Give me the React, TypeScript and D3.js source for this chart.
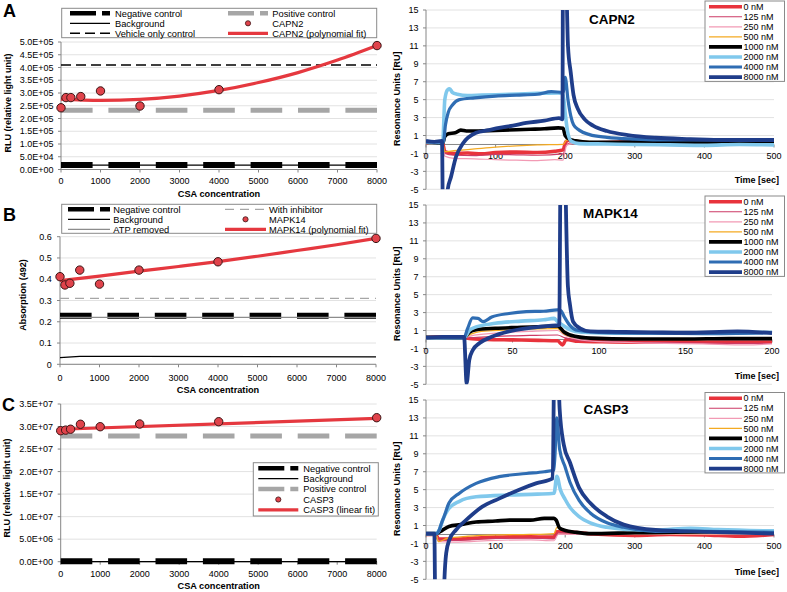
import React from 'react';
import * as d3 from 'd3';

const FONT = '"Liberation Sans", Arial, Helvetica, sans-serif';

// ---------------- Left panels (plate assays) ----------------
const CSA_CONC = [0, 125, 250, 500, 1000, 2000, 4000, 8000];
const CSA_TICKS = [0, 1000, 2000, 3000, 4000, 5000, 6000, 7000, 8000];
const FIT_X = [0, 1000, 2000, 3000, 4000, 5000, 6000, 7000, 8000];

const CAPN2_RLU = [2.42e5, 2.82e5, 2.82e5, 2.86e5, 3.08e5, 2.49e5, 3.13e5, 4.86e5];
const CAPN2_FIT = [2.76e5, 2.71e5, 2.75e5, 2.88e5, 3.1e5, 3.41e5, 3.8e5, 4.29e5, 4.86e5];
const CAPN2_NEG = 1.8e4;
const CAPN2_BKG = 1.7e4;
const CAPN2_POS = 2.32e5;
const CAPN2_VEH = 4.1e5;
const A_YTICKS = [0, 5e4, 1e5, 1.5e5, 2e5, 2.5e5, 3e5, 3.5e5, 4e5, 4.5e5, 5e5];

const MAPK14_ABS = [0.412, 0.373, 0.381, 0.443, 0.377, 0.443, 0.482, 0.592];
const MAPK14_FIT = [0.393, 0.415, 0.438, 0.46, 0.483, 0.508, 0.535, 0.562, 0.592];
const MAPK14_NEG = 0.228;
const MAPK14_ATP = 0.221;
const MAPK14_INH = 0.31;
const MAPK14_BKG_X = [0, 500, 2000, 8000];
const MAPK14_BKG_Y = [0.031, 0.037, 0.037, 0.035];
const B_YTICKS = [0, 0.1, 0.2, 0.3, 0.4, 0.5, 0.6];

const CASP3_RLU = [2.907e7, 2.92e7, 2.94e7, 3.05e7, 2.996e7, 3.056e7, 3.107e7, 3.196e7];
const CASP3_FIT_X = [0, 8000];
const CASP3_FIT = [2.94e7, 3.18e7];
const CASP3_NEG = 1e5;
const CASP3_BKG = 0;
const CASP3_POS = 2.79e7;
const C_YTICKS = [0, 5e6, 1e7, 1.5e7, 2e7, 2.5e7, 3e7, 3.5e7];

// ---------------- Right panels (SPR sensorgrams) ----------------
const CONC_LABELS = ['0 nM', '125 nM', '250 nM', '500 nM', '1000 nM', '2000 nM', '4000 nM', '8000 nM'];
const RU_TICKS = [-5, -3, -1, 1, 3, 5, 7, 9, 11, 13, 15];
const TIME_TICKS_500 = [0, 100, 200, 300, 400, 500];
const TIME_TICKS_200 = [0, 50, 100, 150, 200];

const CAPN2_0 = [[0,0.2],[12,0.3],[24,0.1],[27,-0.8],[40,-1.0],[60,-0.95],[80,-1.05],[100,-0.9],[130,-0.85],[160,-0.9],[185,-0.75],[197,-0.6],[201,0.3],[206,0.5],[212,0.2],[240,0.2],[300,0.3],[350,0.25],[400,0.3],[450,0.3],[500,0.3]];
const CAPN2_125 = [[0,0.2],[24,0.1],[27,-1.0],[40,-1.2],[70,-1.25],[100,-1.1],[130,-1.15],[160,-1.2],[197,-1.05],[202,0.0],[210,0.2],[300,0.3],[400,0.3],[500,0.3]];
const CAPN2_250 = [[0,0.2],[24,0.1],[27,-1.3],[40,-1.55],[70,-1.6],[100,-1.7],[130,-1.75],[160,-1.8],[185,-1.7],[197,-1.75],[202,-0.1],[210,0.1],[300,0.2],[400,0.2],[500,0.2]];
const CAPN2_500 = [[0,0.2],[24,0.1],[27,-0.8],[40,-0.7],[70,-0.5],[100,-0.3],[130,-0.15],[160,-0.05],[197,0.0],[202,0.5],[212,0.55],[225,0.35],[260,0.3],[300,0.3],[400,0.35],[500,0.4]];
const CAPN2_1000 = [[0,0.3],[15,0.2],[24,0.1],[27,0.9],[32,1.2],[42,1.3],[50,1.6],[58,1.5],[70,1.5],[90,1.55],[110,1.6],[130,1.65],[150,1.7],[170,1.75],[190,1.85],[197,1.8],[200,1.0],[206,0.6],[215,0.4],[235,0.25],[270,0.25],[300,0.3],[350,0.2],[400,0.25],[450,0.2],[500,0.3]];
const CAPN2_2000 = [[0,0.3],[24,0.2],[27,5.0],[31,6.1],[34,6.2],[38,5.8],[45,5.6],[60,5.45],[80,5.5],[120,5.6],[160,5.7],[190,5.75],[197,5.6],[200,3.5],[204,1.2],[209,0.35],[220,0.1],[260,0.05],[300,0.0],[350,-0.05],[400,-0.1],[450,0.0],[500,-0.05]];
const CAPN2_4000 = [[0,0.3],[25,0.3],[28,2.2],[32,3.6],[38,4.4],[48,5.0],[70,5.2],[100,5.4],[130,5.5],[160,5.6],[180,5.9],[197,5.8],[200,7.5],[204,5.0],[208,3.2],[212,2.2],[220,1.6],[235,1.1],[260,0.8],[300,0.6],[350,0.5],[400,0.5],[450,0.5],[500,0.5]];
const CAPN2_8000 = [[0,0.4],[12,0.3],[23,0.4],[24.5,-9],[29.5,-9],[31,-5.1],[36,-3.6],[43,-1.4],[53,0.1],[72,1.3],[90,1.6],[105,1.85],[125,2.1],[144,2.4],[170,2.65],[191,2.95],[196,2.8],[197,24],[199.5,24],[204,11],[208,8],[212,5.5],[218,4.0],[228,2.8],[240,2.1],[260,1.5],[290,1.05],[330,0.75],[380,0.6],[430,0.5],[500,0.5]];

const MAPK14_0 = [[0,0.2],[10,0.3],[22,0.3],[25,0.1],[35,0.0],[50,-0.05],[65,-0.1],[76,-0.15],[79,-0.6],[81,0.0],[88,-0.2],[100,-0.25],[120,-0.3],[150,-0.25],[170,-0.3],[200,-0.3]];
const MAPK14_125 = [[0,0.2],[22,0.2],[26,0.2],[40,0.35],[60,0.45],[76,0.5],[80,0.2],[88,-0.1],[100,-0.2],[130,-0.35],[160,-0.4],[200,-0.45]];
const MAPK14_250 = [[0,0.2],[22,0.2],[26,0.4],[40,0.7],[60,0.9],[76,1.0],[80,0.5],[88,0.0],[100,-0.25],[130,-0.4],[160,-0.5],[185,-0.6],[200,-0.5]];
const MAPK14_500 = [[0,0.2],[22,0.2],[26,0.6],[32,0.9],[45,1.05],[60,1.15],[76,1.2],[80,0.6],[88,0.2],[100,0.05],[150,0.0],[200,0.05]];
const MAPK14_1000 = [[0,0.25],[22,0.2],[25,0.8],[29,1.1],[40,1.25],[55,1.35],[68,1.45],[76,1.5],[80,0.8],[86,0.35],[95,0.15],[120,0.05],[150,0.05],[175,0.1],[200,0.1]];
const MAPK14_2000 = [[0,0.2],[22,0.2],[25,1.0],[29,1.4],[40,1.8],[55,2.05],[68,2.2],[74,2.35],[76,2.0],[79,1.6],[83,1.1],[90,0.8],[110,0.7],[150,0.7],[200,0.8]];
const MAPK14_4000 = [[0,0.2],[22,0.2],[24,1.2],[27,2.4],[30,2.35],[33,2.0],[38,2.5],[48,2.9],[58,3.1],[68,3.15],[76,3.3],[78,3.2],[80,2.5],[83,1.6],[88,1.0],[100,0.8],[130,0.7],[160,0.65],[200,0.75]];
const MAPK14_8000 = [[0,0.2],[10,0.3],[22,0.3],[23.5,-4.9],[25,-2.3],[27,-1.2],[31,-0.4],[38,0.3],[48,0.9],[58,1.25],[70,1.5],[77,1.6],[78,24],[79.5,24],[82,6],[83.2,3.9],[85,2.0],[89,1.25],[95,0.9],[110,0.85],[130,0.8],[150,0.75],[180,0.9],[200,0.7]];

const CASP3_0 = [[0,0.0],[14,0.0],[18,-0.5],[40,-0.5],[70,-0.4],[100,-0.3],[150,-0.25],[184,-0.3],[188,0.3],[200,0.3],[240,0.05],[300,-0.1],[350,0.0],[400,-0.05],[450,-0.2],[500,0.0]];
const CASP3_125 = [[0,0.0],[14,0.0],[18,-0.6],[40,-0.65],[100,-0.45],[150,-0.4],[184,-0.5],[190,0.2],[220,0.15],[300,0.0],[400,0.0],[500,0.0]];
const CASP3_250 = [[0,0.0],[14,0.0],[18,-0.8],[40,-0.85],[100,-0.65],[150,-0.6],[184,-0.7],[190,0.0],[250,0.0],[500,0.0]];
const CASP3_500 = [[0,0.0],[14,0.0],[18,-0.8],[30,-0.45],[60,-0.2],[100,-0.05],[150,0.0],[184,0.1],[188,0.8],[195,0.5],[210,0.2],[300,0.1],[500,0.1]];
const CASP3_1000 = [[0,0.1],[15,0.1],[20,0.3],[33,0.9],[50,1.1],[72,1.4],[100,1.5],[120,1.6],[150,1.6],[170,1.8],[184,1.8],[187,1.6],[192,0.7],[200,0.45],[215,0.25],[235,0.1],[300,0.2],[400,0.3],[420,0.45],[450,0.3],[500,0.2]];
const CASP3_2000 = [[0,0.1],[15,0.1],[19,0.5],[25,1.8],[31,2.7],[48,3.7],[72,4.2],[120,4.4],[160,4.5],[184,4.6],[188,6.5],[193,5.0],[200,3.9],[207,3.0],[220,2.0],[236,1.3],[260,0.8],[284,0.6],[330,0.5],[380,0.7],[420,0.55],[500,0.4]];
const CASP3_4000 = [[0,0.1],[15,0.1],[19,0.5],[22,1.2],[26,2.0],[33,3.5],[48,4.6],[72,5.7],[105,6.45],[144,6.8],[170,7.0],[184,7.2],[188,13],[192,9.5],[200,7.5],[207,5.8],[220,3.8],[236,2.4],[260,1.3],[284,0.8],[330,0.35],[400,0.35],[450,0.3],[500,0.25]];
const CASP3_8000 = [[0,0.1],[12,0.1],[13.5,-9],[25,-9],[26.5,-5],[29,-2.1],[33.5,-0.6],[43,0.5],[57.5,1.6],[81,3.1],[105,4.0],[134,5.0],[158,5.7],[182,6.26],[185,24],[187.5,24],[192,14],[198,10],[207,8.0],[220,5.2],[236,3.5],[260,2.0],[284,1.1],[330,0.5],[400,0.3],[450,0.2],[500,0.1]];

// ---------------- Styles ----------------
const SERIES_COLORS = ['#e8333c', '#cc3a66', '#f29ab4', '#f4aa22', '#000000', '#80c8ec', '#2f6db3', '#1f3d8a'];
const SERIES_WIDTHS = [3.6, 1.2, 1.2, 1.3, 3.6, 3.6, 3.2, 3.8];

type Sty = { stroke: string; width: number; dash?: string; kind?: 'line' | 'dot' };
const NEG: Sty = { stroke: '#000', width: 6, dash: 'long' };
const POS: Sty = { stroke: '#a6a6a6', width: 5, dash: 'long' };
const BKG: Sty = { stroke: '#000', width: 1.2 };
const VEH: Sty = { stroke: '#000', width: 1.4, dash: '10,5' };
const INH: Sty = { stroke: '#a6a6a6', width: 1.3, dash: '9,6' };
const ATP: Sty = { stroke: '#8c8c8c', width: 1.2 };
const FIT: Sty = { stroke: '#e5383f', width: 3.2 };
const DOT: Sty = { stroke: '#3a1515', width: 1, kind: 'dot' };
const DOT_FILL = '#e0434b';

const fmtE = (v: number) => {
  const [m, e] = v.toExponential(1).split('e');
  return `${m}E${e[0]}${e.slice(1).padStart(2, '0')}`;
};

type LegendItem = { sty: Sty; label: string; sx0: number; sx1: number; tx: number; y: number };

type LeftCfg = {
  x0: number; x1: number; yTop: number; yBot: number; yMax: number; yTicks: number[];
  fmt: (v: number) => string; tickRight: number;
  yLabel: string; yLabelX: number; yLabelY: number;
  letter: string; letterX: number; letterY: number;
  xTickY: number; xTitleY: number;
  hlines: { xs: number[]; ys: number[]; sty: Sty }[];
  points: number[]; fitX: number[]; fitY: number[]; fitCurve: boolean;
  legendBox: [number, number, number, number];
  legend: LegendItem[];
};

function LeftPanel({ c }: { c: LeftCfg }) {
  const x = d3.scaleLinear().domain([0, 8000]).range([c.x0, c.x1]);
  const y = d3.scaleLinear().domain([0, c.yMax]).range([c.yBot, c.yTop]);
  const longDash = `${x(800) - x(0)},${x(400) - x(0)}`;
  const dashOf = (s: Sty) => (s.dash === 'long' ? longDash : s.dash);
  const path = (xs: number[], ys: number[], curve: boolean) => {
    const g = d3.line<number>().x((d) => x(xs[d])).y((d) => y(ys[d]));
    if (curve) g.curve(d3.curveMonotoneX);
    return g(xs.map((_, i) => i)) || '';
  };
  const legendDash = (s: Sty) => (s.dash === 'long' ? '26,6' : s.dash);
  return (
    <g>
      {c.yTicks.map((t) => (
        <line key={'g' + t} x1={c.x0} x2={c.x1} y1={y(t)} y2={y(t)} stroke="#dadada" strokeWidth={0.8} />
      ))}
      <line x1={c.x0} x2={c.x0} y1={c.yTop} y2={c.yBot} stroke="#868686" strokeWidth={1} />
      <line x1={c.x0} x2={c.x1} y1={c.yBot} y2={c.yBot} stroke="#868686" strokeWidth={1} />
      {c.yTicks.map((t) => (
        <g key={'yt' + t}>
          <line x1={c.x0 - 3} x2={c.x0} y1={y(t)} y2={y(t)} stroke="#868686" />
          <text x={c.tickRight} y={y(t) + 3.2} fontSize={9} textAnchor="end" fill="#000">{c.fmt(t)}</text>
        </g>
      ))}
      {CSA_TICKS.map((t) => (
        <g key={'xt' + t}>
          <line x1={x(t)} x2={x(t)} y1={c.yBot} y2={c.yBot + 3} stroke="#868686" />
          <text x={x(t)} y={c.xTickY + 3.2} fontSize={9} textAnchor="middle" fill="#000">{t}</text>
        </g>
      ))}
      {c.hlines.map((h, i) => (
        <path key={'h' + i} d={path(h.xs, h.ys, false)} fill="none" stroke={h.sty.stroke}
          strokeWidth={h.sty.width} strokeDasharray={dashOf(h.sty)} />
      ))}
      <path d={path(c.fitX, c.fitY, c.fitCurve)} fill="none" stroke={FIT.stroke} strokeWidth={FIT.width} />
      {c.points.map((v, i) => (
        <circle key={'p' + i} cx={x(CSA_CONC[i])} cy={y(v)} r={4.2} fill={DOT_FILL} stroke={DOT.stroke} strokeWidth={1} />
      ))}
      <text x={c.letterX} y={c.letterY} fontSize={18} fontWeight="bold">{c.letter}</text>
      <text transform={`translate(${c.yLabelX},${c.yLabelY}) rotate(-90)`} fontSize={9} fontWeight="bold"
        textAnchor="middle" dy={3.2}>{c.yLabel}</text>
      <text x={(c.x0 + c.x1) / 2} y={c.xTitleY + 3.2} fontSize={9.2} fontWeight="bold" textAnchor="middle">CSA concentration</text>
      <rect x={c.legendBox[0]} y={c.legendBox[1]} width={c.legendBox[2]} height={c.legendBox[3]} fill="#fff" stroke="#8a8a8a" strokeWidth={1} />
      {c.legend.map((it, i) => (
        <g key={'l' + i}>
          {it.sty.kind === 'dot' ? (
            <circle cx={(it.sx0 + it.sx1) / 2} cy={it.y} r={2.6} fill={DOT_FILL} stroke={DOT.stroke} strokeWidth={0.8} />
          ) : (
            <line x1={it.sx0} x2={it.sx1} y1={it.y} y2={it.y} stroke={it.sty.stroke}
              strokeWidth={Math.min(it.sty.width, 4.5)} strokeDasharray={legendDash(it.sty)} />
          )}
          <text x={it.tx} y={it.y + 3.3} fontSize={9.3}>{it.label}</text>
        </g>
      ))}
    </g>
  );
}

type RightCfg = {
  yTop: number; yBot: number; tMax: number; xRight: number; tTicks: number[];
  title: string; titleX: number; titleY: number; series: number[][][];
  legendTop: number; timeY: number; id: string;
};

function SprPanel({ c }: { c: RightCfg }) {
  const X0 = 426;
  const x = d3.scaleLinear().domain([0, c.tMax]).range([X0, c.xRight]);
  const y = d3.scaleLinear().domain([-5, 15]).range([c.yBot, c.yTop]);
  const line = d3.line<number[]>().x((d) => x(d[0])).y((d) => y(d[1])).curve(d3.curveMonotoneX);
  const lx = 705, lw = 79.5, rowH = 10.05;
  return (
    <g>
      <defs>
        <clipPath id={c.id}>
          <rect x={X0} y={c.yTop} width={c.xRight - X0 + 2} height={c.yBot - c.yTop} />
        </clipPath>
      </defs>
      {RU_TICKS.map((t) => (
        <line key={'g' + t} x1={X0} x2={c.xRight} y1={y(t)} y2={y(t)} stroke="#dadada" strokeWidth={0.8} />
      ))}
      <line x1={X0} x2={X0} y1={c.yTop} y2={c.yBot} stroke="#868686" />
      <line x1={X0} x2={c.xRight} y1={y(0)} y2={y(0)} stroke="#868686" />
      {RU_TICKS.map((t) => (
        <g key={'yt' + t}>
          <line x1={X0 - 3} x2={X0} y1={y(t)} y2={y(t)} stroke="#868686" />
          <text x={418.5} y={y(t) + 3.2} fontSize={9} textAnchor="end">{t}</text>
        </g>
      ))}
      {c.tTicks.map((t) => (
        <g key={'xt' + t}>
          <line x1={x(t)} x2={x(t)} y1={y(0)} y2={y(0) + 3} stroke="#868686" />
          <text x={x(t)} y={y(0) + 11.5 + 3.2} fontSize={9} textAnchor="middle">{t}</text>
        </g>
      ))}
      <g clipPath={`url(#${c.id})`}>
        {c.series.map((s, i) => (
          <path key={'s' + i} d={line(s) || ''} fill="none" stroke={SERIES_COLORS[i]} strokeWidth={SERIES_WIDTHS[i]}
            strokeLinejoin="round" />
        ))}
      </g>
      <text transform={`translate(397,${(c.yTop + c.yBot) / 2 - 1}) rotate(-90)`} fontSize={9} fontWeight="bold"
        textAnchor="middle" dy={3.2}>Resonance Units [RU]</text>
      <text x={779} y={c.timeY + 3.2} fontSize={9} fontWeight="bold" textAnchor="end">Time [sec]</text>
      <text x={c.titleX} y={c.titleY + 5} fontSize={13.5} fontWeight="bold" textAnchor="middle">{c.title}</text>
      <rect x={lx} y={c.legendTop} width={lw} height={rowH * 8} fill="#fff" stroke="#8a8a8a" strokeWidth={1} />
      {CONC_LABELS.map((lab, i) => {
        const ry = c.legendTop + 5.7 + i * rowH;
        return (
          <g key={'l' + i}>
            <line x1={709} x2={742} y1={ry} y2={ry} stroke={SERIES_COLORS[i]} strokeWidth={SERIES_WIDTHS[i]} />
            <text x={743.5} y={ry + 3.2} fontSize={9}>{lab}</text>
          </g>
        );
      })}
    </g>
  );
}

const A_CFG: LeftCfg = {
  x0: 61, x1: 377, yTop: 42, yBot: 169.5, yMax: 5e5, yTicks: A_YTICKS, fmt: fmtE, tickRight: 53.5,
  yLabel: 'RLU (relative light unit)', yLabelX: 8, yLabelY: 103,
  letter: 'A', letterX: 3, letterY: 17, xTickY: 180.5, xTitleY: 193.5,
  hlines: [
    { xs: [0, 8000], ys: [CAPN2_POS, CAPN2_POS], sty: POS },
    { xs: [0, 8000], ys: [CAPN2_NEG, CAPN2_NEG], sty: NEG },
    { xs: [0, 8000], ys: [CAPN2_BKG, CAPN2_BKG], sty: BKG },
    { xs: [0, 8000], ys: [CAPN2_VEH, CAPN2_VEH], sty: VEH },
  ],
  points: CAPN2_RLU, fitX: FIT_X, fitY: CAPN2_FIT, fitCurve: true,
  legendBox: [61.7, 8.3, 315, 29.4],
  legend: [
    { sty: NEG, label: 'Negative control', sx0: 70, sx1: 110, tx: 115, y: 13.3 },
    { sty: BKG, label: 'Background', sx0: 70, sx1: 110, tx: 115, y: 23.3 },
    { sty: VEH, label: 'Vehicle only control', sx0: 70, sx1: 110, tx: 115, y: 33.3 },
    { sty: POS, label: 'Positive control', sx0: 228, sx1: 268, tx: 272.3, y: 13.3 },
    { sty: DOT, label: 'CAPN2', sx0: 228, sx1: 268, tx: 272.3, y: 23.3 },
    { sty: FIT, label: 'CAPN2 (polynomial fit)', sx0: 228, sx1: 268, tx: 272.3, y: 33.3 },
  ],
};

const B_CFG: LeftCfg = {
  x0: 60, x1: 376, yTop: 236.7, yBot: 364.3, yMax: 0.6, yTicks: B_YTICKS, fmt: (v) => String(+v.toFixed(1)), tickRight: 51.7,
  yLabel: 'Absorption (492)', yLabelX: 23, yLabelY: 295,
  letter: 'B', letterX: 3, letterY: 221, xTickY: 377.5, xTitleY: 389.5,
  hlines: [
    { xs: [0, 8000], ys: [MAPK14_NEG, MAPK14_NEG], sty: NEG },
    { xs: MAPK14_BKG_X, ys: MAPK14_BKG_Y, sty: BKG },
    { xs: [0, 8000], ys: [MAPK14_ATP, MAPK14_ATP], sty: ATP },
    { xs: [0, 8000], ys: [MAPK14_INH, MAPK14_INH], sty: INH },
  ],
  points: MAPK14_ABS, fitX: FIT_X, fitY: MAPK14_FIT, fitCurve: true,
  legendBox: [61.7, 204.3, 315, 29],
  legend: [
    { sty: NEG, label: 'Negative control', sx0: 68, sx1: 110, tx: 113.3, y: 209.3 },
    { sty: BKG, label: 'Background', sx0: 68, sx1: 110, tx: 113.3, y: 219.3 },
    { sty: ATP, label: 'ATP removed', sx0: 68, sx1: 110, tx: 113.3, y: 229.3 },
    { sty: INH, label: 'With inhibitor', sx0: 225, sx1: 266, tx: 269, y: 209.3 },
    { sty: DOT, label: 'MAPK14', sx0: 225, sx1: 266, tx: 269, y: 219.3 },
    { sty: FIT, label: 'MAPK14 (polynomial fit)', sx0: 225, sx1: 266, tx: 269, y: 229.3 },
  ],
};

const C_CFG: LeftCfg = {
  x0: 60.7, x1: 376.7, yTop: 404, yBot: 561.7, yMax: 3.5e7, yTicks: C_YTICKS, fmt: fmtE, tickRight: 53,
  yLabel: 'RLU (relative light unit)', yLabelX: 7, yLabelY: 488,
  letter: 'C', letterX: 2, letterY: 411, xTickY: 573.5, xTitleY: 586,
  hlines: [
    { xs: [0, 8000], ys: [CASP3_NEG, CASP3_NEG], sty: NEG },
    { xs: [0, 8000], ys: [CASP3_BKG, CASP3_BKG], sty: BKG },
    { xs: [0, 8000], ys: [CASP3_POS, CASP3_POS], sty: POS },
  ],
  points: CASP3_RLU, fitX: CASP3_FIT_X, fitY: CASP3_FIT, fitCurve: false,
  legendBox: [253.3, 462.7, 125, 53.3],
  legend: [
    { sty: NEG, label: 'Negative control', sx0: 258.3, sx1: 298.3, tx: 303.3, y: 468.3 },
    { sty: BKG, label: 'Background', sx0: 258.3, sx1: 298.3, tx: 303.3, y: 478.7 },
    { sty: POS, label: 'Positive control', sx0: 258.3, sx1: 298.3, tx: 303.3, y: 489.1 },
    { sty: DOT, label: 'CASP3', sx0: 258.3, sx1: 298.3, tx: 303.3, y: 499.5 },
    { sty: FIT, label: 'CASP3 (linear fit)', sx0: 258.3, sx1: 298.3, tx: 303.3, y: 509.9 },
  ],
};

const RA: RightCfg = {
  yTop: 10, yBot: 189.3, tMax: 500, xRight: 774, tTicks: TIME_TICKS_500, title: 'CAPN2', titleX: 612, titleY: 19,
  series: [CAPN2_0, CAPN2_125, CAPN2_250, CAPN2_500, CAPN2_1000, CAPN2_2000, CAPN2_4000, CAPN2_8000],
  legendTop: 1, timeY: 180, id: 'clipA',
};
const RB: RightCfg = {
  yTop: 205, yBot: 384.3, tMax: 200, xRight: 772, tTicks: TIME_TICKS_200, title: 'MAPK14', titleX: 610.5, titleY: 213,
  series: [MAPK14_0, MAPK14_125, MAPK14_250, MAPK14_500, MAPK14_1000, MAPK14_2000, MAPK14_4000, MAPK14_8000],
  legendTop: 196, timeY: 375.5, id: 'clipB',
};
const RC: RightCfg = {
  yTop: 400, yBot: 579.3, tMax: 500, xRight: 774, tTicks: TIME_TICKS_500, title: 'CASP3', titleX: 606, titleY: 409,
  series: [CASP3_0, CASP3_125, CASP3_250, CASP3_500, CASP3_1000, CASP3_2000, CASP3_4000, CASP3_8000],
  legendTop: 392.5, timeY: 571.5, id: 'clipC',
};

export default function App() {
  return (
    <svg width={787} height={592} fontFamily={FONT}
      style={{ position: 'absolute', left: 0, top: 0, display: 'block', background: '#fff' }}>
      <rect width={787} height={592} fill="#fff" />
      <LeftPanel c={A_CFG} />
      <LeftPanel c={B_CFG} />
      <LeftPanel c={C_CFG} />
      <SprPanel c={RA} />
      <SprPanel c={RB} />
      <SprPanel c={RC} />
    </svg>
  );
}
